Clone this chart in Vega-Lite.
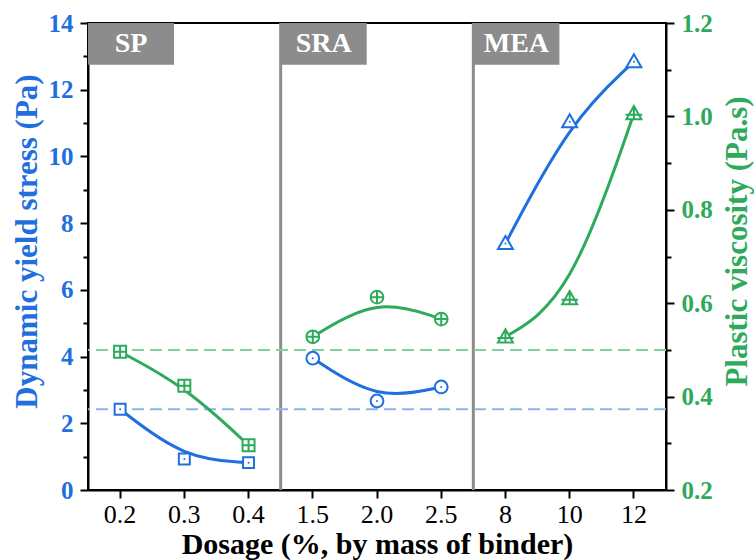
{
  "$schema": "https://vega.github.io/schema/vega-lite/v6.json",
  "width": 578,
  "height": 467,
  "autosize": {"type": "none"},
  "padding": {"left": 88, "top": 23, "right": 88, "bottom": 70},
  "config": {
    "font": "Liberation Serif",
    "view": {"stroke": "black", "strokeWidth": 2},
    "axis": {"grid": false, "domainColor": "black", "domainWidth": 2, "tickColor": "black", "tickWidth": 2, "labelFont": "Liberation Serif", "titleFont": "Liberation Serif", "labelOverlap": false, "labelFlush": false},
    "axisX": {"title": "Dosage (%, by mass of binder)", "labelAngle": 0, "labelFontSize": 26, "labelColor": "black", "labelPadding": 3, "tickSize": 8, "titleFontSize": 30, "titleFontWeight": "bold", "titleColor": "black", "titlePadding": 2}
  },
  "datasets": {
    "main": [
      {"dose": "0.2", "group": "SP", "stress": 2.42, "visc": 0.496},
      {"dose": "0.3", "group": "SP", "stress": 0.93, "visc": 0.423},
      {"dose": "0.4", "group": "SP", "stress": 0.82, "visc": 0.296},
      {"dose": "1.5", "group": "SRA", "stress": 3.95, "visc": 0.528},
      {"dose": "2.0", "group": "SRA", "stress": 2.67, "visc": 0.613},
      {"dose": "2.5", "group": "SRA", "stress": 3.09, "visc": 0.566},
      {"dose": "8", "group": "MEA", "stress": 7.39, "visc": 0.528},
      {"dose": "10", "group": "MEA", "stress": 11.04, "visc": 0.61},
      {"dose": "12", "group": "MEA", "stress": 12.84, "visc": 1.006}
    ],
    "refs": [{"stress": 2.42, "visc": 0.5}],
    "seps": [{"dose": "1.5"}, {"dose": "8"}],
    "groups": [{"group": "SP", "dose": "0.2"}, {"group": "SRA", "dose": "1.5"}, {"group": "MEA", "dose": "8"}]
  },
  "layer": [
    {
      "data": {"name": "seps"},
      "mark": {"type": "rule", "color": "#8c8c8c", "strokeWidth": 3},
      "encoding": {
        "x": {"field": "dose", "type": "ordinal", "bandPosition": 0, "title": "Dosage (%, by mass of binder)", "scale": {"type": "band", "domain": ["0.2", "0.3", "0.4", "1.5", "2.0", "2.5", "8", "10", "12"], "paddingInner": 0, "paddingOuter": 0}}
      }
    },
    {
      "data": {"name": "refs"},
      "mark": {"type": "rule", "color": "#8ab4f0", "strokeWidth": 2, "strokeDash": [12, 6]},
      "encoding": {
        "y": {"field": "stress", "type": "quantitative", "scale": {"domain": [0, 14], "nice": false},
          "axis": {"orient": "left", "title": "Dynamic yield stress (Pa)", "values": [0, 2, 4, 6, 8, 10, 12, 14], "tickSize": 8, "labelPadding": 7, "labelColor": "#1f6fdf", "labelFontSize": 25, "labelFontWeight": "bold", "titleColor": "#1f6fdf", "titleFontSize": 31, "titleFontWeight": "bold", "titlePadding": 5, "titleAngle": 270, "titleAlign": "center", "titleBaseline": "bottom", "titleY": 218}}
      }
    },
    {
      "data": {"name": "refs"},
      "mark": {"type": "rule", "color": "#7fd39a", "strokeWidth": 2, "strokeDash": [12, 6]},
      "encoding": {
        "y": {"field": "visc", "type": "quantitative", "scale": {"domain": [0.2, 1.2], "nice": false, "zero": false},
          "axis": {"orient": "right", "title": "Plastic viscosity (Pa.s)", "values": [0.2, 0.4, 0.6, 0.8, 1.0, 1.2], "format": ".1f", "tickSize": 8, "labelPadding": 7, "labelColor": "#2eaa5c", "labelFontSize": 25, "labelFontWeight": "bold", "titleColor": "#2eaa5c", "titleFontSize": 31, "titleFontWeight": "bold", "titleAngle": 270, "titleAlign": "center", "titleBaseline": "top", "titlePadding": 10, "titleY": 218}}
      }
    },
    {
      "data": {"name": "refs"},
      "mark": {"type": "rule", "opacity": 0},
      "encoding": {
        "y": {"field": "stress", "type": "quantitative", "scale": {"domain": [0, 14], "nice": false},
          "axis": {"orient": "left", "values": [1, 3, 5, 7, 9, 11, 13], "labels": false, "domain": false, "tickSize": 5, "title": null}}
      }
    },
    {
      "data": {"name": "refs"},
      "mark": {"type": "rule", "opacity": 0},
      "encoding": {
        "y": {"field": "visc", "type": "quantitative", "scale": {"domain": [0.2, 1.2], "nice": false, "zero": false},
          "axis": {"orient": "right", "values": [0.3, 0.5, 0.7, 0.9, 1.1], "labels": false, "domain": false, "tickSize": 5, "title": null}}
      }
    },
    {
      "data": {"name": "main"},
      "mark": {"type": "line", "color": "#1f6fdf", "strokeWidth": 3, "interpolate": "basis"},
      "encoding": {
        "x": {"field": "dose", "type": "ordinal", "title": "Dosage (%, by mass of binder)", "scale": {"type": "band", "domain": ["0.2", "0.3", "0.4", "1.5", "2.0", "2.5", "8", "10", "12"], "paddingInner": 0, "paddingOuter": 0}},
        "y": {"field": "stress", "type": "quantitative", "scale": {"domain": [0, 14], "nice": false}, "axis": null},
        "detail": {"field": "group"}
      }
    },
    {
      "data": {"name": "main"},
      "mark": {"type": "line", "color": "#2eaa5c", "strokeWidth": 3, "interpolate": "basis"},
      "encoding": {
        "x": {"field": "dose", "type": "ordinal", "title": "Dosage (%, by mass of binder)", "scale": {"type": "band", "domain": ["0.2", "0.3", "0.4", "1.5", "2.0", "2.5", "8", "10", "12"], "paddingInner": 0, "paddingOuter": 0}},
        "y": {"field": "visc", "type": "quantitative", "scale": {"domain": [0.2, 1.2], "nice": false, "zero": false}, "axis": null},
        "detail": {"field": "group"}
      }
    },
    {
      "data": {"name": "main"},
      "mark": {"type": "point", "filled": false, "fill": "white", "fillOpacity": 1, "stroke": "#1f6fdf", "strokeWidth": 2, "size": 225, "opacity": 1},
      "encoding": {
        "x": {"field": "dose", "type": "ordinal", "title": "Dosage (%, by mass of binder)", "scale": {"type": "band", "domain": ["0.2", "0.3", "0.4", "1.5", "2.0", "2.5", "8", "10", "12"], "paddingInner": 0, "paddingOuter": 0}},
        "y": {"field": "stress", "type": "quantitative", "scale": {"domain": [0, 14], "nice": false}, "axis": null},
        "shape": {"field": "group", "type": "nominal", "legend": null, "scale": {"domain": ["SP", "SRA", "MEA"], "range": ["M-0.73,-0.73H0.73V0.73H-0.73Z", "M-0.85,0A0.85,0.85 0 1,1 0.85,0A0.85,0.85 0 1,1 -0.85,0Z", "M0,-1L1,0.75H-1Z"]}}
      }
    },
    {
      "data": {"name": "main"},
      "mark": {"type": "point", "filled": true, "color": "#1f6fdf", "size": 4, "opacity": 1, "shape": "circle"},
      "encoding": {
        "x": {"field": "dose", "type": "ordinal", "title": "Dosage (%, by mass of binder)", "scale": {"type": "band", "domain": ["0.2", "0.3", "0.4", "1.5", "2.0", "2.5", "8", "10", "12"], "paddingInner": 0, "paddingOuter": 0}},
        "y": {"field": "stress", "type": "quantitative", "scale": {"domain": [0, 14], "nice": false}, "axis": null}
      }
    },
    {
      "data": {"name": "main"},
      "mark": {"type": "point", "filled": false, "fill": "white", "fillOpacity": 1, "stroke": "#2eaa5c", "strokeWidth": 2, "size": 225, "opacity": 1},
      "encoding": {
        "x": {"field": "dose", "type": "ordinal", "title": "Dosage (%, by mass of binder)", "scale": {"type": "band", "domain": ["0.2", "0.3", "0.4", "1.5", "2.0", "2.5", "8", "10", "12"], "paddingInner": 0, "paddingOuter": 0}},
        "y": {"field": "visc", "type": "quantitative", "scale": {"domain": [0.2, 1.2], "nice": false, "zero": false}, "axis": null},
        "shape": {"field": "group", "type": "nominal", "legend": null, "scale": {"domain": ["SP", "SRA", "MEA"], "range": ["M-0.8,-0.8H0.8V0.8H-0.8Z M0,-0.8V0.8 M-0.8,0H0.8", "M-0.85,0A0.85,0.85 0 1,1 0.85,0A0.85,0.85 0 1,1 -0.85,0Z M0,-0.85V0.85 M-0.85,0H0.85", "M0,-1L1,0.75H-1Z M0,-1.1V0.75 M-1.1,0.15H1.1"]}}
      }
    },
    {
      "data": {"name": "groups"},
      "mark": {"type": "rect", "color": "#8c8c8c"},
      "encoding": {
        "x": {"field": "dose", "type": "ordinal", "bandPosition": 0, "title": "Dosage (%, by mass of binder)", "scale": {"type": "band", "domain": ["0.2", "0.3", "0.4", "1.5", "2.0", "2.5", "8", "10", "12"], "paddingInner": 0, "paddingOuter": 0}},
        "x2": {"field": "dose", "bandPosition": 1.34},
        "y": {"datum": 14, "type": "quantitative", "scale": {"domain": [0, 14], "nice": false}, "axis": null},
        "y2": {"datum": 12.75}
      }
    },
    {
      "data": {"name": "groups"},
      "mark": {"type": "text", "color": "white", "fontSize": 28, "fontWeight": "bold", "font": "Liberation Serif", "align": "center", "baseline": "middle"},
      "encoding": {
        "x": {"field": "dose", "type": "ordinal", "bandPosition": 0.67, "title": "Dosage (%, by mass of binder)", "scale": {"type": "band", "domain": ["0.2", "0.3", "0.4", "1.5", "2.0", "2.5", "8", "10", "12"], "paddingInner": 0, "paddingOuter": 0}},
        "y": {"datum": 13.36, "type": "quantitative", "scale": {"domain": [0, 14], "nice": false}, "axis": null},
        "text": {"field": "group"}
      }
    }
  ],
  "resolve": {"scale": {"y": "independent", "shape": "independent"}, "axis": {"y": "independent"}}
}
